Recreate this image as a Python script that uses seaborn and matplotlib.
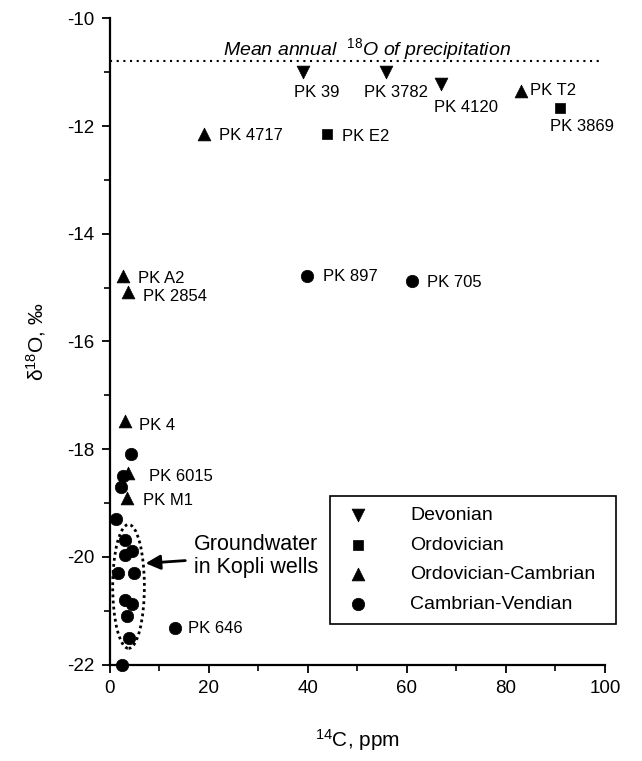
import matplotlib
matplotlib.use("Agg")
import matplotlib.pyplot as plt
import seaborn as sns
import pandas as pd
from matplotlib.patches import Ellipse

# ---------------- data ----------------
formations = ["Devonian", "Ordovician", "Ordovician-Cambrian", "Cambrian-Vendian"]

well = ["PK 39", "PK 3782", "PK 4120",
        "PK E2", "PK 3869",
        "PK T2", "PK 4717", "PK A2", "PK 2854", "PK 4", "PK 6015", "PK M1",
        "PK 897", "PK 705", "PK 646",
        "", "", "", "", "", "", "", "", "", "", "", "", "", ""]
c14 = [39.0, 55.8, 66.8,
       43.8, 90.9,
       83.0, 18.9, 2.7, 3.7, 3.0, 3.7, 3.5,
       39.8, 61.0, 13.1,
       4.2, 2.7, 2.2, 1.3, 3.0, 4.4, 3.0, 1.7, 4.9, 3.0, 4.5, 3.4, 3.9, 2.4]
d18o = [-11.0, -11.0, -11.22,
        -12.15, -11.66,
        -11.34, -12.14, -14.79, -15.09, -17.48, -18.45, -18.9,
        -14.78, -14.88, -21.32,
        -18.09, -18.5, -18.7, -19.3, -19.69, -19.89, -19.97, -20.3, -20.3,
        -20.8, -20.88, -21.1, -21.5, -22.0]
group = (["Devonian"] * 3 + ["Ordovician"] * 2 + ["Ordovician-Cambrian"] * 7
         + ["Cambrian-Vendian"] * 17)

precip_mean = -10.79
x_ticks = [0, 20, 40, 60, 80, 100]
y_ticks = [-22, -20, -18, -16, -14, -12, -10]

df = pd.DataFrame({"well": well, "c14": c14, "d18o": d18o, "group": group})

# ---------------- style ----------------
sns.set_theme(style="ticks")
plt.rcParams["font.family"] = ["Liberation Sans", "DejaVu Sans"]
plt.rcParams["mathtext.fontset"] = "custom"
plt.rcParams["mathtext.rm"] = "Liberation Sans"
plt.rcParams["mathtext.it"] = "Liberation Sans:italic"
plt.rcParams["mathtext.bf"] = "Liberation Sans:bold"
plt.rcParams["axes.unicode_minus"] = False
for k in ["text.color", "axes.labelcolor", "xtick.color", "ytick.color",
          "axes.edgecolor"]:
    plt.rcParams[k] = "black"

fig = plt.figure(figsize=(6.42, 7.61), dpi=100)
ax = fig.add_axes([0.1713, 0.1268, 0.771, 0.849])

marker_map = {"Devonian": "v", "Ordovician": "s",
              "Ordovician-Cambrian": "^", "Cambrian-Vendian": "o"}
size_map = {"Devonian": 85, "Ordovician": 55,
            "Ordovician-Cambrian": 85, "Cambrian-Vendian": 80}

for f in formations:
    sub = df[df["group"] == f]
    sns.scatterplot(data=sub, x="c14", y="d18o", ax=ax, marker=marker_map[f],
                    s=size_map[f], color="black", edgecolor="black",
                    linewidth=0.5, label=f, clip_on=False, zorder=5)

# point labels: (dx, dy) in pixels, dy positive = downward; ha
label_offsets = {
    "PK 39": (14, 20, "center"), "PK 3782": (10, 20, "center"),
    "PK 4120": (25, 23, "center"), "PK T2": (9, 0, "left"),
    "PK 3869": (22, 19, "center"), "PK 4717": (15, 2, "left"),
    "PK E2": (15, 2, "left"), "PK A2": (15, 2, "left"),
    "PK 2854": (15, 4, "left"), "PK 4": (14, 4, "left"),
    "PK 6015": (21, 3, "left"), "PK M1": (16, 3, "left"),
    "PK 897": (16, 1, "left"), "PK 705": (15, 1, "left"),
    "PK 646": (13, 1, "left"),
}
for w, x, y in zip(df["well"], df["c14"], df["d18o"]):
    if not w:
        continue
    dx, dy, ha = label_offsets[w]
    ax.annotate(w, xy=(x, y), xytext=(dx, -dy), textcoords="offset pixels",
                ha=ha, va="center", fontsize=12, color="black")

# mean annual precipitation line
ax.axhline(precip_mean, xmin=0, xmax=0.99, color="black", lw=1.5,
           ls=(0, (1, 2.2)), zorder=1)
ax.text(52, -10.68, "Mean annual  $^{18}$O of precipitation", style="italic",
        ha="center", va="baseline", fontsize=14, color="black")

# groundwater ellipse + arrow
ax.add_patch(Ellipse((3.75, -20.55), width=6.4, height=2.3, fill=False,
                     ls=(0, (1, 1.2)), lw=2, color="black", zorder=4))
ax.annotate("Groundwater\nin Kopli wells", xy=(7.2, -20.12), xytext=(17.0, -19.98),
            ha="left", va="center", fontsize=15.5, linespacing=1.15,
            color="black",
            arrowprops=dict(arrowstyle="-|>", color="black", lw=2,
                            mutation_scale=22, shrinkA=4, shrinkB=0))

# axes
ax.set_xlim(0, 100)
ax.set_ylim(-22, -10)
ax.set_xticks(x_ticks)
ax.set_yticks(y_ticks)
ax.set_xticks(range(10, 100, 20), minor=True)
ax.set_yticks(range(-21, -10, 2), minor=True)
ax.tick_params(axis="both", which="major", direction="out", length=6, width=1.3,
               labelsize=13.5, pad=5, color="black", labelcolor="black")
ax.tick_params(axis="both", which="minor", direction="out", length=4, width=1.2,
               color="black")
for s in ["top", "right"]:
    ax.spines[s].set_visible(False)
for s in ["left", "bottom"]:
    ax.spines[s].set_linewidth(1.6)
    ax.spines[s].set_color("black")

ax.set_xlabel("$^{14}$C, ppm", fontsize=15, labelpad=22, color="black")
ax.set_ylabel("δ$^{18}$O, ‰", fontsize=15, labelpad=14, color="black")

leg = ax.legend(loc="lower left", bbox_to_anchor=(0.444, 0.063, 0.578, 0.207),
                mode="expand", frameon=True, fancybox=False, fontsize=14,
                borderpad=0.55, labelspacing=0.62, handlelength=1.8,
                handletextpad=1.8, borderaxespad=0, scatterpoints=1)
leg.get_frame().set_edgecolor("black")
leg.get_frame().set_linewidth(1.2)
leg.get_frame().set_alpha(1)
for t in leg.get_texts():
    t.set_color("black")

fig.savefig("out.png", dpi=100)
